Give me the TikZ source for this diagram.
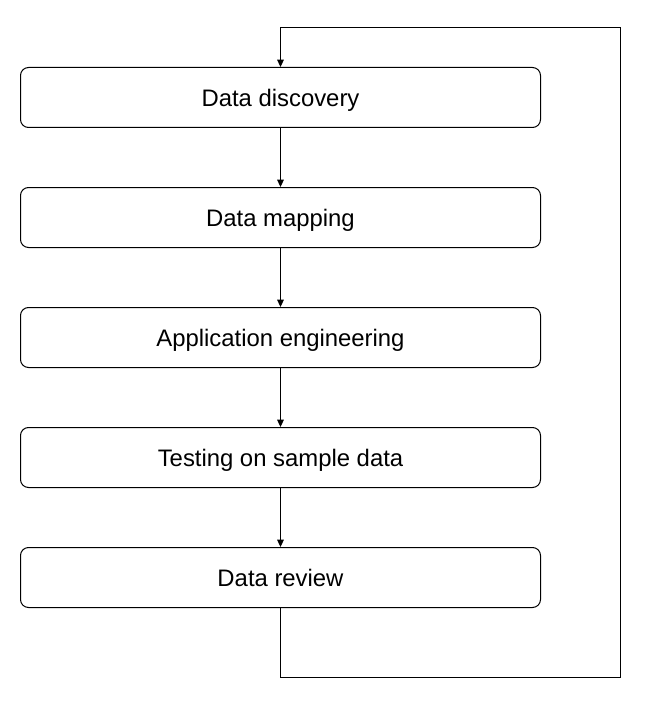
\documentclass[tikz,border=0pt]{standalone}
\usepackage{fontspec}
\setmainfont{Liberation Sans}
\usetikzlibrary{arrows.meta, positioning}

\begin{document}
\begin{tikzpicture}[
    x=0.75pt, y=0.75pt,
    >={Triangle[length=5.5pt, width=5pt]},
    node distance=44.25pt,
]
\tikzset{
    stage/.style={
        rectangle, rounded corners=6pt, draw=black, line width=0.75pt,
        fill=white, minimum height=45pt, minimum width=390pt,
        font=\fontsize{17.9}{20}\selectfont, align=center, text=black,
        inner sep=0pt, text height=12.9pt, text depth=0pt,
    },
    flow/.style={->, line width=0.75pt, draw=black},
}

\useasboundingbox (0,0) rectangle (649,-706);

\node[stage] (discovery) at (280.5,-97.5) {Data discovery};
\node[stage, below=of discovery] (mapping) {Data mapping};
\node[stage, below=of mapping] (engineering) {Application engineering};
\node[stage, below=of engineering] (testing) {Testing on sample data};
\node[stage, below=of testing] (review) {Data review};

\draw[flow] (discovery) -- (mapping);
\draw[flow] (mapping) -- (engineering);
\draw[flow] (engineering) -- (testing);
\draw[flow] (testing) -- (review);

% loop back from the review to the start
\coordinate (loopright) at (620.5,-28);
\draw[flow] (review.south) |- (loopright |- 0,-677.5) -- (loopright)
    -| (discovery.north);

\end{tikzpicture}
\end{document}
